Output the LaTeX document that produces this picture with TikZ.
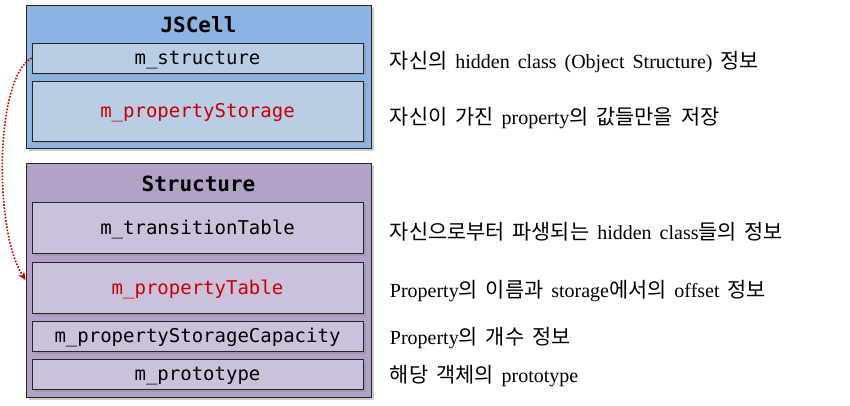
\documentclass[tikz,border=0pt]{standalone}
\usepackage{fontspec}
\setmainfont{Liberation Serif}
\setmonofont{DejaVu Sans Mono}
\newfontfamily\krfont[Scale=1.04]{Noto Sans CJK KR}
\newcommand{\kr}[1]{{\krfont #1}}
\newcommand{\notefont}{\fontsize{20}{24}\selectfont\spaceskip 8pt plus 1pt\relax}
\definecolor{cellblue}{RGB}{141, 179, 226}
\definecolor{cellfield}{RGB}{185, 205, 229}
\definecolor{structpurple}{RGB}{179, 162, 199}
\definecolor{structfield}{RGB}{204, 193, 218}
\definecolor{fieldred}{RGB}{200, 0, 0}
\usetikzlibrary{arrows.meta, positioning, shadows}

\begin{document}
\begin{tikzpicture}[x=1pt, y=-1pt,
  outerbox/.style={draw=black!85, line width=0.75pt, minimum width=345pt, inner sep=0pt,
    drop shadow={shadow xshift=3pt, shadow yshift=-3pt, opacity=0.4}},
  fieldbox/.style={draw=black!85, line width=0.75pt, minimum width=331pt, inner sep=2pt,
    text height=16pt, text depth=3pt,
    font=\ttfamily\fontsize{19}{22}\selectfont,
    drop shadow={shadow xshift=2.5pt, shadow yshift=-2.5pt, opacity=0.35}},
  boxtitle/.style={anchor=base, font=\ttfamily\bfseries\fontsize{21}{24}\selectfont},
  note/.style={right=23pt of #1, yshift=-4pt, font=\notefont}]
  \useasboundingbox (0,0) rectangle (850,406);

  % JSCell
  \node[outerbox, fill=cellblue, minimum height=143pt] (jscell) at (198.5,76.5) {};
  \node[boxtitle] (jscelltitle) at (198.5,33) {JSCell};
  \node[fieldbox, fill=cellfield, minimum height=30pt] (mstructure) at (197.5,58) {m\_structure};
  \node[fieldbox, fill=cellfield, minimum height=60pt, text=fieldred] (mpropstorage) at (197.5,111) {m\_propertyStorage};

  % Structure
  \node[outerbox, fill=structpurple, minimum height=234pt] (structure) at (198.5,280) {};
  \node[boxtitle] (structuretitle) at (198.5,191) {Structure};
  \node[fieldbox, fill=structfield, minimum height=51pt] (mtransition) at (197.5,227.5) {m\_transitionTable};
  \node[fieldbox, fill=structfield, minimum height=51pt, text=fieldred] (mproptable) at (197.5,287.5) {m\_propertyTable};
  \node[fieldbox, fill=structfield, minimum height=30pt] (mcapacity) at (197.5,336) {m\_propertyStorageCapacity};
  \node[fieldbox, fill=structfield, minimum height=30pt] (mprototype) at (197.5,374) {m\_prototype};

  % descriptions
  \node[note=mstructure] (notestructure) {\kr{자신의} hidden class (Object Structure) \kr{정보}};
  \node[note=mpropstorage, yshift=-3pt] (notepropstorage) {\kr{자신이 가진} property\kr{의 값들만을 저장}};
  \node[note=mtransition] (notetransition) {\kr{자신으로부터 파생되는} hidden class\kr{들의 정보}};
  \node[note=mproptable] (noteproptable) {Property\kr{의 이름과} storage\kr{에서의} offset \kr{정보}};
  \node[note=mcapacity, yshift=2pt] (notecapacity) {Property\kr{의 개수 정보}};
  \node[note=mprototype, yshift=2pt] (noteprototype) {\kr{해당 객체의} prototype};

  \draw[fieldred, line width=1.6pt, dash pattern=on 1.6pt off 1.6pt, -{Stealth[length=8pt, width=7pt]}]
    (mstructure.west) .. controls +(-37,20) and +(-32,-48) .. (structure.west);
\end{tikzpicture}
\end{document}
